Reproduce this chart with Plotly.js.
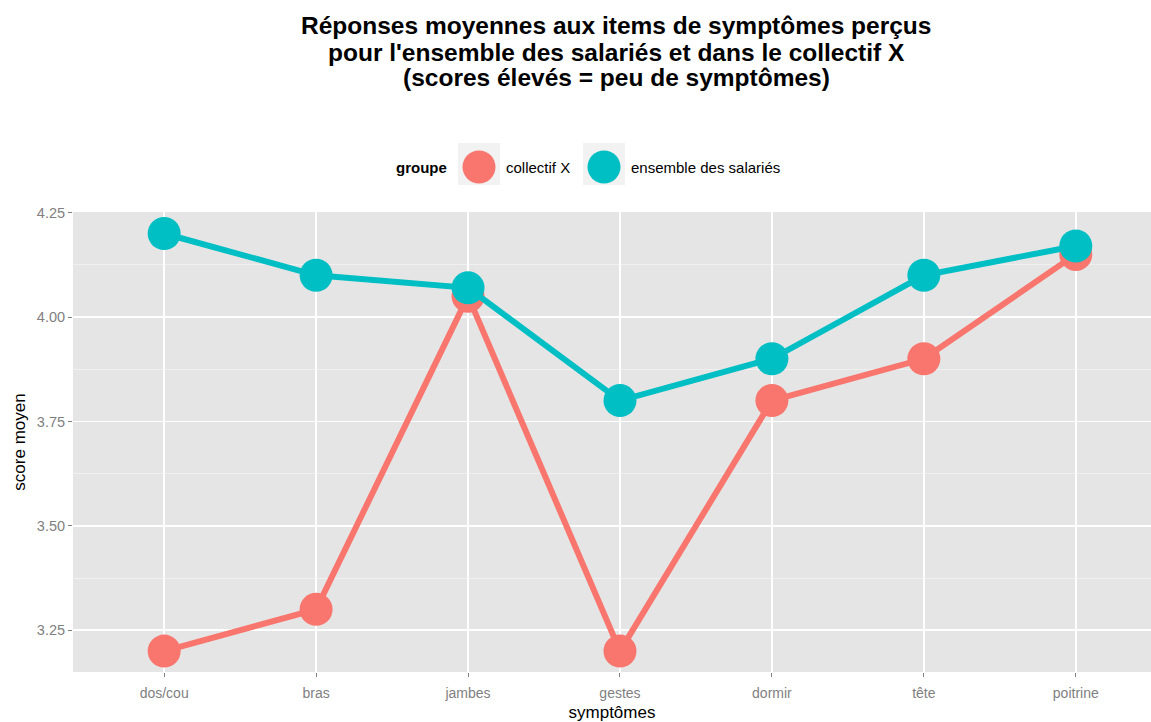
<!DOCTYPE html>
<html>
<head>
<meta charset="utf-8">
<script src="https://cdn.plot.ly/plotly-3.0.1.min.js"></script>
<style>html,body{margin:0;padding:0;background:#fff;}#chart{width:1151px;height:722px;}</style>
</head>
<body>
<div id="chart"></div>
<script>
const categories = ["dos/cou", "bras", "jambes", "gestes", "dormir", "tête", "poitrine"];
const collectifX = [3.2, 3.3, 4.05, 3.2, 3.8, 3.9, 4.15];
const ensembleSalaries = [4.2, 4.1, 4.07, 3.8, 3.9, 4.1, 4.17];
const groupNames = ["collectif X", "ensemble des salariés"];
const groupColors = ["#F8766D", "#00BFC4"];
const yTicks = [3.25, 3.5, 3.75, 4.0, 4.25];
const yTickLabels = ["3.25", "3.50", "3.75", "4.00", "4.25"];
const titleLines = [
  "Réponses moyennes aux items de symptômes perçus",
  "pour l'ensemble des salariés et dans le collectif X",
  "(scores élevés = peu de symptômes)"
];

const FONT = "Liberation Sans, Arial, sans-serif";
const series = [collectifX, ensembleSalaries];
const traces = series.map((vals, i) => ({
  type: "scatter",
  mode: "lines+markers",
  x: categories,
  y: vals,
  name: groupNames[i],
  line: {color: groupColors[i], width: 6},
  marker: {color: groupColors[i], size: 33},
  showlegend: false,
  hoverinfo: "x+y+name"
}));

// pixel -> paper helpers
const L = 73, W = 1151 - 73, T = 212, H = 672 - 212;
const px = x => (x - L) / W;
const py = y => (T + H - y) / H;
const shapes = [];
const annotations = [];

// title (three centred lines)
const titleY = [26, 52, 78];
titleLines.forEach((t, i) => {
  annotations.push({xref: "paper", yref: "paper", x: px(616), y: py(titleY[i]), xanchor: "center", yanchor: "middle",
    text: "<b>" + t + "</b>", showarrow: false, font: {family: FONT, size: 24.5, color: "#000"}});
});

// custom legend (ggplot-like keys)
annotations.push({xref: "paper", yref: "paper", x: px(394), y: py(167), xanchor: "left", yanchor: "middle",
  text: "<b>groupe</b>", showarrow: false, font: {family: FONT, size: 15, color: "#000"}});
const boxX = [458, 583];
const textX = [504, 629];
groupNames.forEach((g, i) => {
  shapes.push({type: "rect", xref: "paper", yref: "paper", x0: px(boxX[i]), x1: px(boxX[i] + 42), y0: py(185), y1: py(143),
    fillcolor: "#F2F2F2", line: {width: 0}, layer: "below"});
  const cx = boxX[i] + 21;
  shapes.push({type: "circle", xref: "paper", yref: "paper", x0: px(cx - 16.5), x1: px(cx + 16.5), y0: py(183.5), y1: py(150.5),
    fillcolor: groupColors[i], line: {width: 0}});
  annotations.push({xref: "paper", yref: "paper", x: px(textX[i]), y: py(167), xanchor: "left", yanchor: "middle",
    text: g, showarrow: false, font: {family: FONT, size: 15, color: "#000"}});
});

const layout = {
  width: 1151, height: 722,
  paper_bgcolor: "#FFFFFF",
  plot_bgcolor: "#E5E5E5",
  margin: {l: 73, r: 0, t: 212, b: 50},
  font: {family: FONT},
  xaxis: {
    type: "category",
    range: [-0.6, 6.495],
    showgrid: true, gridcolor: "#FFFFFF", gridwidth: 1.5,
    zeroline: false, showline: false,
    ticks: "outside", ticklen: 4, tickwidth: 1, tickcolor: "#7F7F7F",
    ticklabelstandoff: 4,
    tickfont: {size: 14, color: "#7F7F7F"},
    title: {text: "symptômes", font: {size: 17, color: "#000"}, standoff: 6},
    fixedrange: true
  },
  yaxis: {
    range: [3.15, 4.2515],
    tickvals: yTicks, ticktext: yTickLabels,
    showgrid: true, gridcolor: "#FFFFFF", gridwidth: 1.5,
    minor: {dtick: 0.125, tick0: 3.125, showgrid: true, gridcolor: "#F2F2F2", gridwidth: 0.8, ticks: ""},
    zeroline: false, showline: false,
    ticks: "outside", ticklen: 4, tickwidth: 1, tickcolor: "#7F7F7F",
    tickfont: {size: 14.5, color: "#7F7F7F"},
    title: {text: "score moyen", font: {size: 17, color: "#000"}, standoff: 6},
    fixedrange: true
  },
  shapes: shapes,
  annotations: annotations,
  showlegend: false
};

Plotly.newPlot("chart", traces, layout, {displayModeBar: false, staticPlot: true});
</script>
</body>
</html>
